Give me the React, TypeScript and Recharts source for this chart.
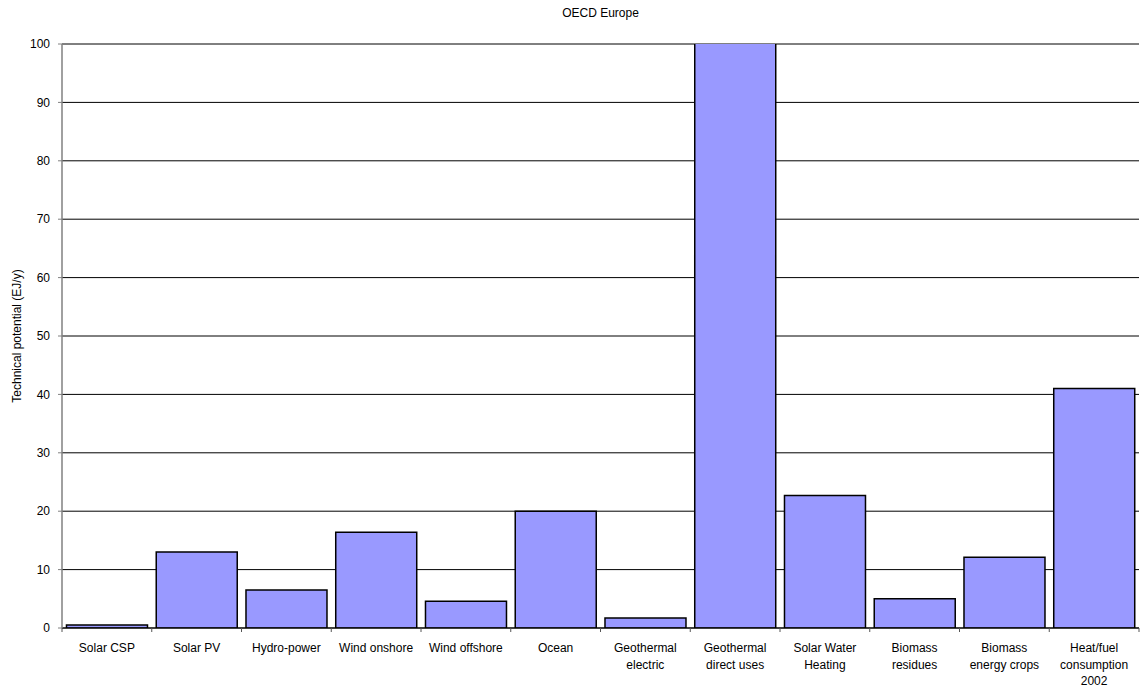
import React from 'react';
import { BarChart, Bar, XAxis, YAxis, CartesianGrid } from 'recharts';

const categories = [
  'Solar CSP',
  'Solar PV',
  'Hydro-power',
  'Wind onshore',
  'Wind offshore',
  'Ocean',
  'Geothermal\nelectric',
  'Geothermal\ndirect uses',
  'Solar Water\nHeating',
  'Biomass\nresidues',
  'Biomass\nenergy crops',
  'Heat/fuel\nconsumption\n2002',
];
// Geothermal direct uses runs off the top of the axis in the original
const potential = [0.5, 13, 6.5, 16.4, 4.6, 20, 1.7, 101, 22.7, 5, 12.1, 41];
const yTicks = [0, 10, 20, 30, 40, 50, 60, 70, 80, 90, 100];

const data = categories.map((name, i) => ({ name, value: potential[i] }));

const FONT = '"Liberation Sans", Arial, sans-serif';

const CategoryTick = (props: any) => {
  const { x, y, payload, index, visibleTicksCount } = props;
  const half = payload.offset ?? 45;
  const lines = String(payload.value).split('\n');
  const last = index === (visibleTicksCount ?? categories.length) - 1;
  return (
    <g>
      <line x1={x - half} x2={x - half} y1={y} y2={y + 4} stroke="#555" />
      {last && <line x1={x + half} x2={x + half} y1={y} y2={y + 4} stroke="#555" />}
      <text x={x} y={y} textAnchor="middle" fontSize={12} fontFamily={FONT} fill="#000">
        {lines.map((l, i) => (
          <tspan key={i} x={x} dy={i === 0 ? 24 : 16.5}>{l}</tspan>
        ))}
      </text>
    </g>
  );
};

export default function App() {
  return (
    <div style={{ position: 'absolute', left: 0, top: 0, width: 1143, height: 692, background: '#fff' }}>
      <div style={{ position: 'absolute', left: 0, width: 1201, top: 6, textAlign: 'center', fontSize: 12, fontFamily: FONT }}>
        OECD Europe
      </div>
      <BarChart
        width={1143}
        height={692}
        data={data}
        margin={{ top: 44, right: 4, bottom: 0, left: 0 }}
        barCategoryGap="5%"
      >
        <CartesianGrid vertical={false} stroke="#000" strokeWidth={1} />
        <XAxis
          dataKey="name"
          interval={0}
          tickLine={false}
          tickSize={0}
          tickMargin={0}
          height={64}
          axisLine={{ stroke: '#000' }}
          tick={<CategoryTick />}
        />
        <YAxis
          width={62}
          domain={[0, 100]}
          ticks={yTicks}
          allowDataOverflow
          interval={0}
          axisLine={{ stroke: '#808080', strokeWidth: 1.5 }}
          tickLine={{ stroke: '#808080' }}
          tickSize={4}
          tickMargin={8}
          tick={{ fontSize: 12, fontFamily: FONT, fill: '#000' }}
          label={{
            content: (p: any) => (
              <text
                x={17}
                y={(p.viewBox?.y ?? 44) + (p.viewBox?.height ?? 584) / 2}
                transform={`rotate(-90, 17, ${(p.viewBox?.y ?? 44) + (p.viewBox?.height ?? 584) / 2})`}
                textAnchor="middle"
                dominantBaseline="central"
                fontSize={12}
                fontFamily={FONT}
                fill="#000"
              >
                Technical potential (EJ/y)
              </text>
            ),
          }}
        />
        <Bar dataKey="value" fill="#9999FF" stroke="#000" strokeWidth={1.5} isAnimationActive={false} />
      </BarChart>
    </div>
  );
}
